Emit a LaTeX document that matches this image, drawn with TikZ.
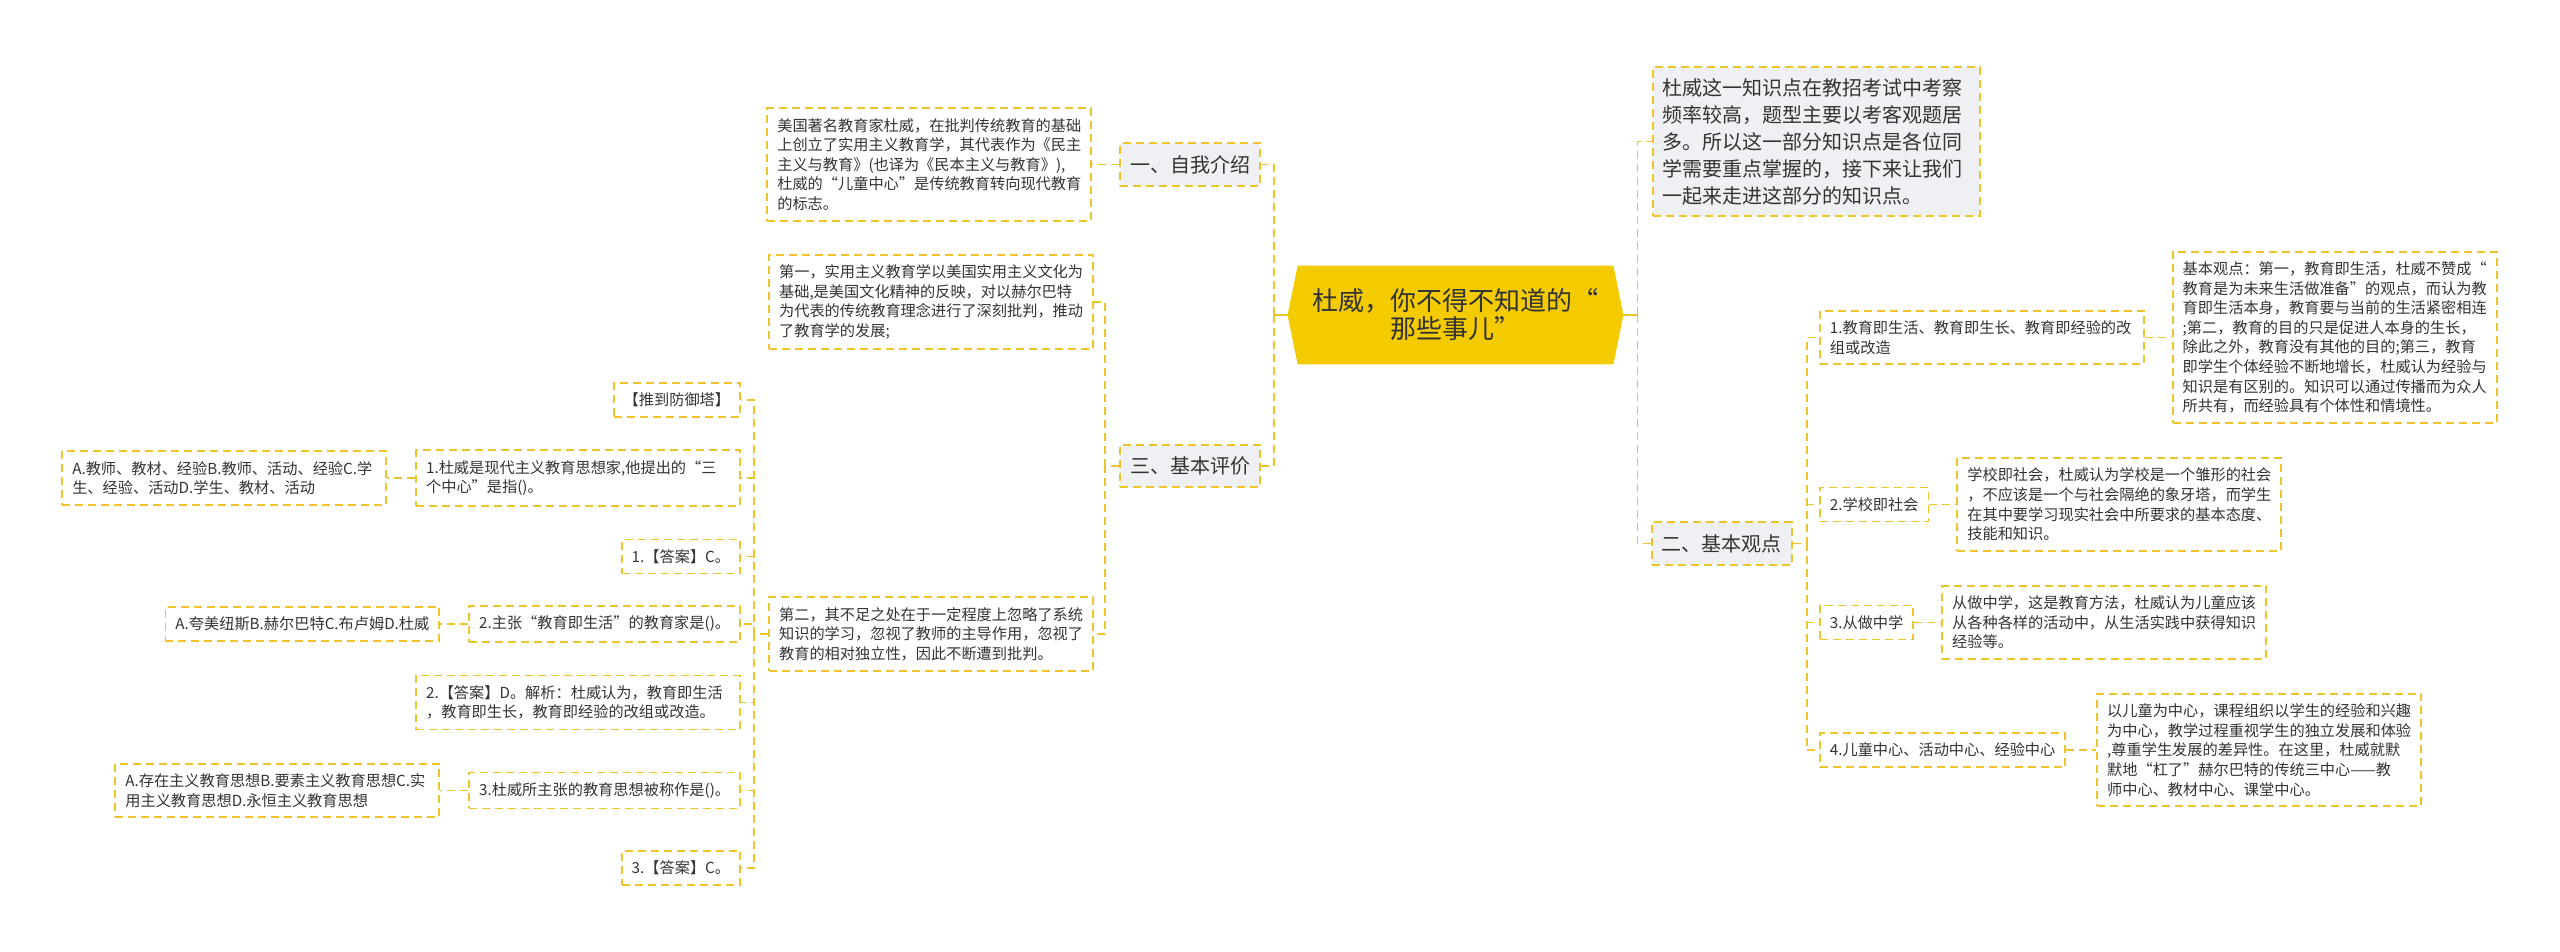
\documentclass[tikz,border=0pt]{standalone}
\usepackage{fontspec}
\setmainfont{Noto Sans CJK SC}
\usetikzlibrary{positioning,backgrounds}
\definecolor{mapline}{RGB}{238,196,44}
\definecolor{mapfill}{RGB}{244,203,0}
\definecolor{topicgray}{RGB}{238,240,243}
\definecolor{maptext}{RGB}{51,51,51}
\tikzset{
  box/.style    = {draw=mapline, line width=0.9pt, dash pattern=on 4pt off 2.5pt,
                   text=maptext, inner xsep=5pt, inner ysep=5pt},
  root/.style   = {minimum width=157.5pt, minimum height=49pt, align=center,
                   text=maptext, font=\fontsize{13}{14}\selectfont, inner sep=0pt},
  topic/.style  = {box, fill=topicgray, font=\fontsize{10}{13.5}\selectfont, inner ysep=6pt},
  intro/.style  = {topic, align=left, text width=153.5pt, inner ysep=5.5pt},
  leaf/.style   = {box, fill=white, font=\fontsize{7.6}{9.8}\selectfont, align=left},
  wide/.style   = {leaf, text width=152pt},
  link/.style   = {draw=mapline, line width=0.9pt, dash pattern=on 4pt off 2.5pt},
  trunk/.style  = {draw=mapline, line width=1.2pt}
}

\begin{document}
\begin{tikzpicture}[x=0.5pt, y=-0.5pt]
  \useasboundingbox (0,0) rectangle (2560,952);

  % Central topic (hexagon drawn behind the text).
  \node[root] (root) at (1455.5,315) {杜威，你不得不知道的“\\那些事儿”};
  \coordinate (rootW) at ([xshift=-5pt]root.west);
  \coordinate (rootE) at ([xshift=5pt]root.east);
  \begin{scope}[on background layer]
    \fill[mapfill] (root.north west) -- (root.north east) -- (rootE)
      -- (root.south east) -- (root.south west) -- (rootW) -- cycle;
  \end{scope}

  % Left branch: introduction.
  \node[topic, anchor=east] (l1) at (1261,164.5) {一、自我介绍};
  \node[wide, left=13.5pt of l1] (a1) {美国著名教育家杜威，在批判传统教育的基础\\
    上创立了实用主义教育学，其代表作为《民主\\
    主义与教育》(也译为《民本主义与教育》),\\
    杜威的“儿童中心”是传统教育转向现代教育\\
    的标志。};

  % Left branch: evaluation.
  \node[topic, anchor=east] (l3) at (1261,466) {三、基本评价};
  \node[wide, anchor=east] (b1) at (1094,302) {第一，实用主义教育学以美国实用主义文化为\\
    基础,是美国文化精神的反映，对以赫尔巴特\\
    为代表的传统教育理念进行了深刻批判，推动\\
    了教育学的发展;};
  \node[wide, anchor=east] (b2) at (1094,634) {第二，其不足之处在于一定程度上忽略了系统\\
    知识的学习，忽视了教师的主导作用，忽视了\\
    教育的相对独立性，因此不断遭到批判。};

  % Exercises under the second evaluation point.
  \node[leaf, anchor=east] (tower) at (741,400) {【推到防御塔】};
  \node[wide, anchor=east] (q1) at (741,478) {1.杜威是现代主义教育思想家,他提出的“三\\个中心”是指()。};
  \node[wide, left=14pt of q1] (opt1) {A.教师、教材、经验B.教师、活动、经验C.学\\生、经验、活动D.学生、教材、活动};
  \node[leaf, anchor=east] (ans1) at (741,556.5) {1.【答案】C。};
  \node[leaf, anchor=east] (q2) at (741,624) {2.主张“教育即生活”的教育家是()。};
  \node[leaf, left=14pt of q2] (opt2) {A.夸美纽斯B.赫尔巴特C.布卢姆D.杜威};
  \node[wide, anchor=east] (ans2) at (741,702.5) {2.【答案】D。解析：杜威认为，教育即生活\\，教育即生长，教育即经验的改组或改造。};
  \node[leaf, anchor=east] (q3) at (741,790.5) {3.杜威所主张的教育思想被称作是()。};
  \node[wide, left=14pt of q3] (opt3) {A.存在主义教育思想B.要素主义教育思想C.实\\用主义教育思想D.永恒主义教育思想};
  \node[leaf, anchor=east] (ans3) at (741,868) {3.【答案】C。};

  % Right branch: overview and basic views.
  \node[intro, anchor=west] (intro) at (1652,141.5) {杜威这一知识点在教招考试中考察\\
    频率较高，题型主要以考客观题居\\
    多。所以这一部分知识点是各位同\\
    学需要重点掌握的，接下来让我们\\
    一起来走进这部分的知识点。};
  \node[topic, anchor=west] (l2) at (1651,543.5) {二、基本观点};

  \node[wide, anchor=west] (r1) at (1819,337.5) {1.教育即生活、教育即生长、教育即经验的改\\组或改造};
  \node[wide, right=13.5pt of r1] (d1) {基本观点：第一，教育即生活，杜威不赞成“\\
    教育是为未来生活做准备”的观点，而认为教\\
    育即生活本身，教育要与当前的生活紧密相连\\
    ;第二，教育的目的只是促进人本身的生长，\\
    除此之外，教育没有其他的目的;第三，教育\\
    即学生个体经验不断地增长，杜威认为经验与\\
    知识是有区别的。知识可以通过传播而为众人\\
    所共有，而经验具有个体性和情境性。};
  \node[leaf, anchor=west] (r2) at (1819,504.5) {2.学校即社会};
  \node[wide, right=13.5pt of r2] (d2) {学校即社会，杜威认为学校是一个雏形的社会\\
    ，不应该是一个与社会隔绝的象牙塔，而学生\\
    在其中要学习现实社会中所要求的基本态度、\\
    技能和知识。};
  \node[leaf, anchor=west] (r3) at (1819,622.5) {3.从做中学};
  \node[wide, right=13.5pt of r3] (d3) {从做中学，这是教育方法，杜威认为儿童应该\\
    从各种各样的活动中，从生活实践中获得知识\\
    经验等。};
  \node[leaf, anchor=west] (r4) at (1819,750) {4.儿童中心、活动中心、经验中心};
  \node[wide, right=15pt of r4] (d4) {以儿童为中心，课程组织以学生的经验和兴趣\\
    为中心，教学过程重视学生的独立发展和体验\\
    ,尊重学生发展的差异性。在这里，杜威就默\\
    默地“杠了”赫尔巴特的传统三中心——教\\
    师中心、教材中心、课堂中心。};

  % Connectors from the central topic.
  \draw[trunk] (rootW) -- ++(-7pt,0) coordinate (lbus);
  \draw[trunk] (rootE) -- ++(7pt,0) coordinate (rbus);
  \draw[link] (lbus) |- (l1.east);
  \draw[link] (lbus) |- (l3.east);
  \draw[link] (rbus) |- (intro.west);
  \draw[link] (rbus) |- (l2.west);

  % Left side connectors.
  \draw[link] (l1.west) -- (a1.east);
  \draw[link] (l3.west) -- ++(-7pt,0) |- (b1.east);
  \draw[link] (l3.west) -- ++(-7pt,0) |- (b2.east);
  \draw[link] (b2.west) -- ++(-7pt,0) |- (tower.east);
  \draw[link] (b2.west) -- ++(-7pt,0) |- (q1.east);
  \draw[link] (b2.west) -- ++(-7pt,0) |- (ans1.east);
  \draw[link] (b2.west) -- ++(-7pt,0) |- (q2.east);
  \draw[link] (b2.west) -- ++(-7pt,0) |- (ans2.east);
  \draw[link] (b2.west) -- ++(-7pt,0) |- (q3.east);
  \draw[link] (b2.west) -- ++(-7pt,0) |- (ans3.east);
  \draw[link] (q1.west) -- (opt1.east);
  \draw[link] (q2.west) -- (opt2.east);
  \draw[link] (q3.west) -- (opt3.east);

  % Right side connectors.
  \draw[link] (l2.east) -- ++(7pt,0) |- (r1.west);
  \draw[link] (l2.east) -- ++(7pt,0) |- (r2.west);
  \draw[link] (l2.east) -- ++(7pt,0) |- (r3.west);
  \draw[link] (l2.east) -- ++(7pt,0) |- (r4.west);
  \draw[link] (r1.east) -- (d1.west);
  \draw[link] (r2.east) -- (d2.west);
  \draw[link] (r3.east) -- (d3.west);
  \draw[link] (r4.east) -- (d4.west);

\end{tikzpicture}
\end{document}
